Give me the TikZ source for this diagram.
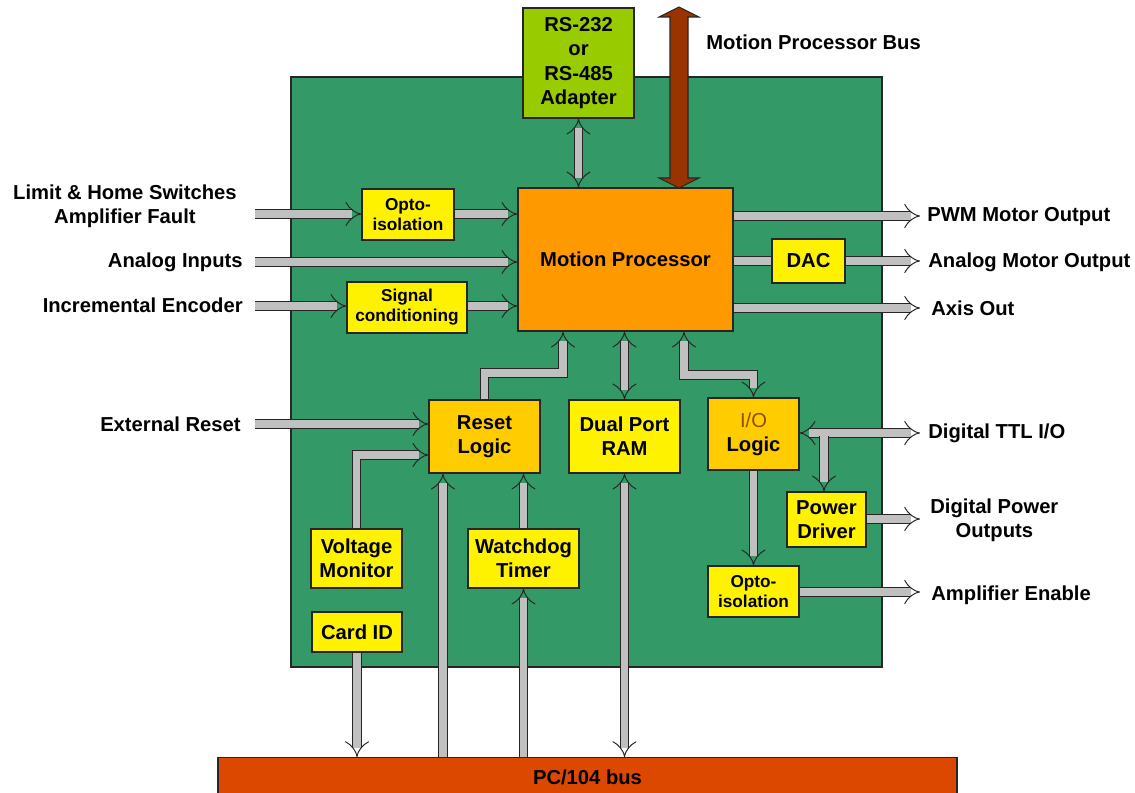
\documentclass[tikz,border=0pt]{standalone}
\usepackage{fontspec}
\setmainfont{Liberation Sans}
\usepackage{tikz}
\usetikzlibrary{arrows.meta}
\definecolor{boardgreen}{RGB}{51,153,102}
\definecolor{adaptgreen}{RGB}{153,204,0}
\definecolor{mporange}{RGB}{255,153,0}
\definecolor{logicgold}{RGB}{255,204,0}
\definecolor{busbrown}{RGB}{153,51,0}
\definecolor{pcred}{RGB}{221,72,0}
\definecolor{sigray}{RGB}{192,192,192}
\definecolor{iobrown}{RGB}{150,75,0}
\newcommand{\px}{0.02cm}
\newcommand{\bigtxt}{\fontsize{11.5}{13.8}\selectfont\bfseries}
\newcommand{\smalltxt}{\fontsize{9.8}{11.4}\selectfont\bfseries}

\begin{document}
\begin{tikzpicture}[x=0.02cm, y=-0.02cm,
    blk/.style={draw=black!85, line width=0.8pt, align=center, inner sep=0pt, font=\bigtxt},
    ybox/.style={blk, fill=yellow},
    gbox/.style={blk, fill=logicgold},
    sig/.style={draw=black!85, line width=0.55pt, double=sigray, double distance=4.4pt, -{Implies[length=3pt, width=8.5pt]}},
    sigb/.style={sig, {Implies[length=3pt, width=8.5pt]}-{Implies[length=3pt, width=8.5pt]}},
    sigl/.style={sig, -},
    lbl/.style={font=\bigtxt, align=center, inner sep=0pt}]

    \useasboundingbox (0,0) rectangle (1135,793);

    % Controller board
    \fill[boardgreen, draw=black!85, line width=1pt] (291,77) rectangle (882,667);

    % Blocks on the board
    \node[blk, fill=adaptgreen, minimum width=111*\px, minimum height=110*\px] (adapter) at (578.5,63) {RS-232\\or\\RS-485\\Adapter};
    \node[blk, fill=mporange, minimum width=215*\px, minimum height=143*\px] (mp) at (625.5,259.5) {Motion Processor};
    \node[ybox, font=\smalltxt, minimum width=92*\px, minimum height=51*\px] (optoA) at (408,214.5) {Opto-\\isolation};
    \node[ybox, font=\smalltxt, minimum width=120*\px, minimum height=51*\px] (sigc) at (407,307.5) {Signal\\conditioning};
    \node[ybox, minimum width=73*\px, minimum height=44*\px] (dac) at (808.5,261) {DAC};
    \node[gbox, minimum width=111*\px, minimum height=73*\px] (reset) at (484.5,436.5) {Reset\\Logic};
    \node[ybox, minimum width=111*\px, minimum height=73*\px] (dpram) at (624.5,436.5) {Dual Port\\RAM};
    \node[gbox, minimum width=91*\px, minimum height=72*\px] (iologic) at (753.5,434) {{\mdseries\color{iobrown}I/O}\\Logic};
    \node[ybox, minimum width=79*\px, minimum height=55*\px] (pwrdrv) at (826.5,519.5) {Power\\Driver};
    \node[ybox, font=\smalltxt, minimum width=91*\px, minimum height=51*\px] (optoB) at (753.5,591.5) {Opto-\\isolation};
    \node[ybox, minimum width=91*\px, minimum height=59*\px] (vmon) at (356.5,558.5) {Voltage\\Monitor};
    \node[ybox, minimum width=111*\px, minimum height=59*\px] (wdog) at (523.5,558.5) {Watchdog\\Timer};
    \node[ybox, minimum width=90*\px, minimum height=40*\px] (cardid) at (357,632) {Card ID};
    \node[blk, fill=pcred, minimum width=739*\px, minimum height=40*\px, anchor=north] (pcbus) at (587.5,757) {PC/104 bus};

    % Outside labels
    \node[lbl, anchor=east] (lLimit) at (237,206) {Limit \& Home Switches\\Amplifier Fault};
    \node[lbl, anchor=east] (lAnIn) at (243,262) {Analog Inputs};
    \node[lbl, anchor=east] (lEnc) at (243,305) {Incremental Encoder};
    \node[lbl, anchor=east] (lExt) at (241,424) {External Reset};
    \node[lbl, anchor=west] (lPWM) at (927,217) {PWM Motor Output};
    \node[lbl, anchor=west] (lAnOut) at (928,262) {Analog Motor Output};
    \node[lbl, anchor=west] (lAxis) at (931,308) {Axis Out};
    \node[lbl, anchor=west] (lTTL) at (928,433) {Digital TTL I/O};
    \node[lbl, anchor=west] (lPwr) at (930,520) {Digital Power\\Outputs};
    \node[lbl, anchor=west] (lAmp) at (931,595) {Amplifier Enable};
    \node[lbl, anchor=west] (lBus) at (706,42) {Motion Processor Bus};

    % Free ends of the signal lines
    \coordinate (iLimit) at (255,214);
    \coordinate (iAn) at (255,262);
    \coordinate (iEnc) at (255,306);
    \coordinate (iExt) at (255,424);
    \coordinate (oPWM) at (920,216);
    \coordinate (oAn) at (920,261);
    \coordinate (oAxis) at (920,308);
    \coordinate (oTTL) at (920,433);
    \coordinate (oPwr) at (920,519);
    \coordinate (oAmp) at (920,592);

    % Motion processor bus
    \draw[fill=busbrown, draw=black!85, line width=0.6pt] (679,7) -- (699,17) -- (688,17) -- (688,178) -- (699,178) -- (679,188)
        -- (659,178) -- (670,178) -- (670,17) -- (659,17) -- cycle;

    % Inputs
    \draw[sig] (iLimit) -- (iLimit -| optoA.west);
    \draw[sig] (iLimit -| optoA.east) -- (iLimit -| mp.west);
    \draw[sig] (iAn) -- (iAn -| mp.west);
    \draw[sig] (iEnc) -- (iEnc -| sigc.west);
    \draw[sig] (iEnc -| sigc.east) -- (iEnc -| mp.west);
    \draw[sig] (iExt) -- (iExt -| reset.west);

    % Outputs
    \draw[sig] (oPWM -| mp.east) -- (oPWM);
    \draw[sigl] (oAn -| mp.east) -- (oAn -| dac.west);
    \draw[sig] (oAn -| dac.east) -- (oAn);
    \draw[sig] (oAxis -| mp.east) -- (oAxis);

    % Digital I/O
    \draw[sigb] (oTTL -| iologic.east) -- (oTTL);
    \coordinate (tap) at (824,436);
    \draw[sig] (tap) -- (tap |- pwrdrv.north);
    \draw[sig] (iologic.south) -- (optoB.north);
    \draw[sig] (oPwr -| pwrdrv.east) -- (oPwr);
    \draw[sig] (oAmp -| optoB.east) -- (oAmp);

    % Links to the motion processor
    \draw[sigb] (adapter.south) -- (adapter.south |- mp.north);
    \coordinate (rk) at (563,373);
    \draw[sig] (reset.north) |- (rk) -- (rk |- mp.south);
    \draw[sigb] (dpram.north) -- (dpram.north |- mp.south);
    \coordinate (ik) at (684,375);
    \draw[sigb] (ik |- mp.south) -- (ik) -| (iologic.north);

    % Reset sources
    \coordinate (vk) at (356,455);
    \draw[sig] (vmon.north) |- (vk -| reset.west);
    \draw[sig] (wdog.north) -- (wdog.north |- reset.south);

    % PC/104 links
    \coordinate (rbus) at (443,757);
    \draw[sig] (rbus) -- (rbus |- reset.south);
    \draw[sig] (wdog.south |- pcbus.north) -- (wdog.south);
    \draw[sigb] (dpram.south) -- (dpram.south |- pcbus.north);
    \draw[sig] (cardid.south) -- (cardid.south |- pcbus.north);
\end{tikzpicture}
\end{document}
